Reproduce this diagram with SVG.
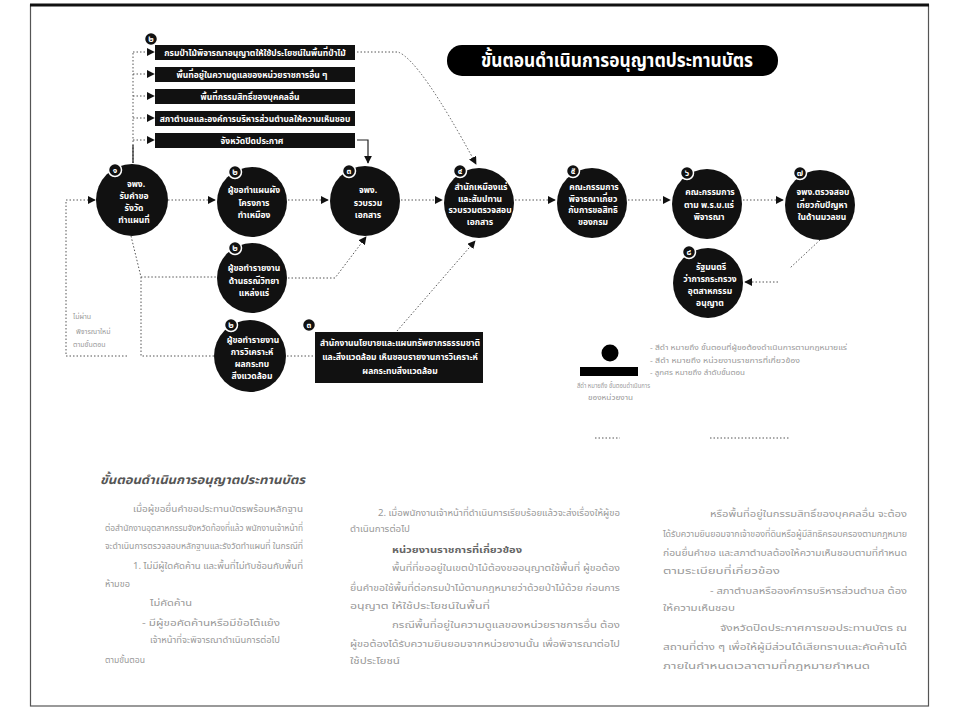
<svg xmlns="http://www.w3.org/2000/svg" width="957" height="724" viewBox="0 0 957 724">
<style>
.th{font-family:"Noto Sans Thai","Noto Sans","DejaVu Sans",sans-serif}
.node circle.c{fill:#111}
.nt{fill:#fff;font-size:8.5px;font-weight:bold;text-anchor:middle}
.bt{fill:#fff;font-size:8.5px;font-weight:bold;text-anchor:middle}
.box rect{fill:#111}
.badge circle{fill:#111;stroke:#fff;stroke-width:1.5}
.badge text{fill:#fff;font-size:8.5px;font-weight:bold;text-anchor:middle}
.dot{fill:none;stroke:#555;stroke-width:1;stroke-dasharray:1.5 2}
.sol{fill:none;stroke:#222;stroke-width:1.2}
.body{fill:#999;font-size:9.5px}
.leg{fill:#999;font-size:7px}
</style>
<defs>
<marker id="ah" viewBox="0 0 10 10" refX="9" refY="5" markerWidth="8" markerHeight="8" markerUnits="userSpaceOnUse" orient="auto">
<path d="M0,0 L10,5 L0,10 z" fill="#111"/>
</marker>
</defs>
<rect x="0" y="0" width="957" height="724" fill="#fff"/>
<rect x="30.5" y="5" width="898" height="701" fill="none" stroke="#555" stroke-width="1.2"/>
<line x1="30" y1="5" x2="929" y2="5" stroke="#111" stroke-width="3"/>

<g id="title">
<rect x="447" y="45" width="331" height="31" rx="15" fill="#000"/>
<text class="th" x="617" y="67" fill="#fff" font-size="20" font-weight="bold" text-anchor="middle" textLength="272" lengthAdjust="spacingAndGlyphs">ขั้นตอนดำเนินการอนุญาตประทานบัตร</text>
</g>

<g id="connectors">
<path class="dot" d="M66,200 H95" marker-end="url(#ah)"/>
<path class="dot" d="M127,356 H66 V200"/>
<path class="dot" d="M168,200 H215" marker-end="url(#ah)"/>
<path class="dot" d="M288,200 H328" marker-end="url(#ah)"/>
<path class="dot" d="M131,236 L141,277 H217"/>
<path class="dot" d="M141,277 V356 H214"/>
<path class="dot" d="M288,278 H335 L366,237" marker-end="url(#ah)"/>
<path class="dot" d="M287,356 H315"/>
<path class="dot" d="M397,331 L475,241" marker-end="url(#ah)"/>
<path class="dot" d="M401,200 H442" marker-end="url(#ah)"/>
<path class="dot" d="M515,200 H555" marker-end="url(#ah)"/>
<path class="dot" d="M628,200 H670" marker-end="url(#ah)"/>
<path class="dot" d="M743,200 H783" marker-end="url(#ah)"/>
<path class="dot" d="M820,240 L790,268 M778,282 H745"/>
<path d="M752,282 H745" stroke="none" marker-end="url(#ah)"/>
<path class="dot" d="M133,163 V52"/>
<path class="dot" d="M133,52 H154" marker-end="url(#ah)"/>
<path class="dot" d="M133,74 H154" marker-end="url(#ah)"/>
<path class="dot" d="M133,96 H154" marker-end="url(#ah)"/>
<path class="dot" d="M133,118 H154" marker-end="url(#ah)"/>
<path class="dot" d="M133,140 H154" marker-end="url(#ah)"/>
<path class="sol" d="M133,145 V163"/>
<path class="sol" d="M357,140 H368 V163" marker-end="url(#ah)"/>
<path class="dot" d="M357,52 H398 Q420,60 476,164" marker-end="url(#ah)"/>
</g>

<g id="box-2a" class="box">
<rect x="155" y="45" width="200" height="15"/>
<text class="th bt" x="255" y="55.5">กรมป่าไม้พิจารณาอนุญาตให้ใช้ประโยชน์ในพื้นที่ป่าไม้</text>
</g>
<g id="box-2b" class="box">
<rect x="155" y="67" width="200" height="15"/>
<text class="th bt" x="252" y="77.5">พื้นที่อยู่ในความดูแลของหน่วยราชการอื่น ๆ</text>
</g>
<g id="box-2c" class="box">
<rect x="155" y="89" width="200" height="15"/>
<text class="th bt" x="250" y="99.5">พื้นที่กรรมสิทธิ์ของบุคคลอื่น</text>
</g>
<g id="box-2d" class="box">
<rect x="155" y="111" width="200" height="15"/>
<text class="th bt" x="255" y="121.5">สภาตำบลและองค์การบริหารส่วนตำบลให้ความเห็นชอบ</text>
</g>
<g id="box-2e" class="box">
<rect x="155" y="133" width="200" height="15"/>
<text class="th bt" x="252" y="143.5">จังหวัดปิดประกาศ</text>
</g>
<g class="badge"><circle cx="151" cy="39" r="6.5"/><text class="th" x="151" y="42">๒</text></g>

<g id="node1" class="node">
<circle class="c" cx="132" cy="200" r="36"/>
<text class="th nt" x="136" y="187">จพง.</text>
<text class="th nt" x="134" y="199">รับคำขอ</text>
<text class="th nt" x="134" y="211">รังวัด</text>
<text class="th nt" x="134" y="223">ทำแผนที่</text>
<g class="badge"><circle cx="115" cy="170" r="6.5"/><text class="th" x="115" y="173">๑</text></g>
</g>
<g id="node2a" class="node">
<circle class="c" cx="252" cy="202" r="35"/>
<text class="th nt" x="254" y="193">ผู้ขอทำแผนผัง</text>
<text class="th nt" x="254" y="205.5">โครงการ</text>
<text class="th nt" x="254" y="218">ทำเหมือง</text>
<g class="badge"><circle cx="235" cy="172" r="6.5"/><text class="th" x="235" y="175">๒</text></g>
</g>
<g id="node2b" class="node">
<circle class="c" cx="252" cy="278" r="35"/>
<text class="th nt" x="254" y="271">ผู้ขอทำรายงาน</text>
<text class="th nt" x="254" y="283.5">ด้านธรณีวิทยา</text>
<text class="th nt" x="254" y="296">แหล่งแร่</text>
<g class="badge"><circle cx="235" cy="248" r="6.5"/><text class="th" x="235" y="251">๒</text></g>
</g>
<g id="node2c" class="node">
<circle class="c" cx="250" cy="356" r="36"/>
<text class="th nt" x="253" y="343">ผู้ขอทำรายงาน</text>
<text class="th nt" x="252" y="355">การวิเคราะห์</text>
<text class="th nt" x="252" y="367">ผลกระทบ</text>
<text class="th nt" x="252" y="379">สิ่งแวดล้อม</text>
<g class="badge"><circle cx="231" cy="325" r="6.5"/><text class="th" x="231" y="328">๒</text></g>
</g>
<g id="node3" class="node">
<circle class="c" cx="365" cy="201" r="35"/>
<text class="th nt" x="368" y="193">จพง.</text>
<text class="th nt" x="368" y="205.5">รวบรวม</text>
<text class="th nt" x="368" y="218">เอกสาร</text>
<g class="badge"><circle cx="349" cy="171" r="6.5"/><text class="th" x="349" y="174">๓</text></g>
</g>
<g id="box3" class="box">
<rect x="315" y="332" width="168" height="51"/>
<text class="th bt" x="400" y="346">สำนักงานนโยบายและแผนทรัพยากรธรรมชาติ</text>
<text class="th bt" x="400" y="360">และสิ่งแวดล้อม เห็นชอบรายงานการวิเคราะห์</text>
<text class="th bt" x="400" y="374">ผลกระทบสิ่งแวดล้อม</text>
<g class="badge"><circle cx="309" cy="325" r="6.5"/><text class="th" x="309" y="328">๓</text></g>
</g>
<g id="node4" class="node">
<circle class="c" cx="479" cy="203" r="35"/>
<text class="th nt" x="481" y="190">สำนักเหมืองแร่</text>
<text class="th nt" x="480" y="201.5">และสัมปทาน</text>
<text class="th nt" x="480" y="213">รวบรวมตรวจสอบ</text>
<text class="th nt" x="480" y="224.5">เอกสาร</text>
<g class="badge"><circle cx="460" cy="171" r="6.5"/><text class="th" x="460" y="174">๔</text></g>
</g>
<g id="node5" class="node">
<circle class="c" cx="592" cy="203" r="35"/>
<text class="th nt" x="594" y="190">คณะกรรมการ</text>
<text class="th nt" x="593" y="201.5">พิจารณาเกี่ยว</text>
<text class="th nt" x="593" y="213">กับการขอสิทธิ</text>
<text class="th nt" x="593" y="224.5">ของกรม</text>
<g class="badge"><circle cx="573" cy="171" r="6.5"/><text class="th" x="573" y="174">๕</text></g>
</g>
<g id="node6" class="node">
<circle class="c" cx="707" cy="204" r="35"/>
<text class="th nt" x="710" y="195">คณะกรรมการ</text>
<text class="th nt" x="709" y="207.5">ตาม พ.ร.บ.แร่</text>
<text class="th nt" x="709" y="220">พิจารณา</text>
<g class="badge"><circle cx="687" cy="173" r="6.5"/><text class="th" x="687" y="176">๖</text></g>
</g>
<g id="node7" class="node">
<circle class="c" cx="820" cy="205" r="35"/>
<text class="th nt" x="823" y="195">จพง.ตรวจสอบ</text>
<text class="th nt" x="822" y="207.5">เกี่ยวกับปัญหา</text>
<text class="th nt" x="822" y="220">ในด้านมวลชน</text>
<g class="badge"><circle cx="800" cy="173" r="6.5"/><text class="th" x="800" y="176">๗</text></g>
</g>
<g id="node8" class="node">
<circle class="c" cx="708" cy="283" r="35"/>
<text class="th nt" x="711" y="270">รัฐมนตรี</text>
<text class="th nt" x="710" y="282">ว่าการกระทรวง</text>
<text class="th nt" x="710" y="294">อุตสาหกรรม</text>
<text class="th nt" x="710" y="306">อนุญาต</text>
<g class="badge"><circle cx="689" cy="252" r="6.5"/><text class="th" x="689" y="255">๘</text></g>
</g>

<g id="note-left">
<text class="th leg" x="73" y="319">ไม่ผ่าน</text>
<text class="th leg" x="76" y="334">พิจารณาใหม่</text>
<text class="th leg" x="73" y="347">ตามขั้นตอน</text>
</g>

<g id="legend">
<circle cx="610" cy="353" r="8.5" fill="#000"/>
<rect x="580" y="367" width="58" height="9" fill="#000"/>
<text class="th leg" x="577" y="388" textLength="73" lengthAdjust="spacingAndGlyphs">สีดำ หมายถึง ขั้นตอนดำเนินการ</text>
<text class="th leg" x="588" y="400" textLength="45" lengthAdjust="spacingAndGlyphs">ของหน่วยงาน</text>
<text class="th leg" x="650" y="350" textLength="197" lengthAdjust="spacingAndGlyphs">- สีดำ หมายถึง ขั้นตอนที่ผู้ขอต้องดำเนินการตามกฎหมายแร่</text>
<text class="th leg" x="650" y="363" textLength="150" lengthAdjust="spacingAndGlyphs">- สีดำ หมายถึง หน่วยงานราชการที่เกี่ยวข้อง</text>
<text class="th leg" x="650" y="375" textLength="95" lengthAdjust="spacingAndGlyphs">- ลูกศร หมายถึง ลำดับขั้นตอน</text>
<path class="dot" d="M595,438 H620 M710,438 H790" stroke="#bbb"/>
</g>

<g id="text-col1" class="th body">
<text x="100" y="484" fill="#555" font-size="12" font-weight="bold" font-style="italic" textLength="205" lengthAdjust="spacingAndGlyphs">ขั้นตอนดำเนินการอนุญาตประทานบัตร</text>
<text x="133" y="512" textLength="170" lengthAdjust="spacingAndGlyphs">เมื่อผู้ขอยื่นคำขอประทานบัตรพร้อมหลักฐาน</text>
<text x="105" y="531" textLength="198" lengthAdjust="spacingAndGlyphs">ต่อสำนักงานอุตสาหกรรมจังหวัดท้องที่แล้ว พนักงานเจ้าหน้าที่</text>
<text x="105" y="549" textLength="198" lengthAdjust="spacingAndGlyphs">จะดำเนินการตรวจสอบหลักฐานและรังวัดทำแผนที่ ในกรณีที่</text>
<text x="133" y="569" textLength="170" lengthAdjust="spacingAndGlyphs">1. ไม่มีผู้ใดคัดค้าน และพื้นที่ไม่ทับซ้อนกับพื้นที่</text>
<text x="105" y="587" textLength="25" lengthAdjust="spacingAndGlyphs">ห้ามขอ</text>
<text x="150" y="606" textLength="42" lengthAdjust="spacingAndGlyphs">ไม่คัดค้าน</text>
<text x="142" y="626" textLength="138" lengthAdjust="spacingAndGlyphs">- มีผู้ขอคัดค้านหรือมีข้อโต้แย้ง</text>
<text x="150" y="643" textLength="130" lengthAdjust="spacingAndGlyphs">เจ้าหน้าที่จะพิจารณาดำเนินการต่อไป</text>
<text x="105" y="663" textLength="40" lengthAdjust="spacingAndGlyphs">ตามขั้นตอน</text>
</g>
<g id="text-col2" class="th body">
<text x="378" y="516" textLength="242" lengthAdjust="spacingAndGlyphs">2. เมื่อพนักงานเจ้าหน้าที่ดำเนินการเรียบร้อยแล้วจะส่งเรื่องให้ผู้ขอ</text>
<text x="350" y="532" textLength="60" lengthAdjust="spacingAndGlyphs">ดำเนินการต่อไป</text>
<text x="392" y="553" fill="#666" font-weight="bold" textLength="130" lengthAdjust="spacingAndGlyphs">หน่วยงานราชการที่เกี่ยวข้อง</text>
<text x="392" y="571" textLength="228" lengthAdjust="spacingAndGlyphs">พื้นที่ที่ขออยู่ในเขตป่าไม้ต้องขออนุญาตใช้พื้นที่ ผู้ขอต้อง</text>
<text x="350" y="591" textLength="270" lengthAdjust="spacingAndGlyphs">ยื่นคำขอใช้พื้นที่ต่อกรมป่าไม้ตามกฎหมายว่าด้วยป่าไม้ด้วย ก่อนการ</text>
<text x="350" y="609" textLength="140" lengthAdjust="spacingAndGlyphs">อนุญาต ให้ใช้ประโยชน์ในพื้นที่</text>
<text x="392" y="628" textLength="228" lengthAdjust="spacingAndGlyphs">กรณีพื้นที่อยู่ในความดูแลของหน่วยราชการอื่น ต้อง</text>
<text x="350" y="647" textLength="270" lengthAdjust="spacingAndGlyphs">ผู้ขอต้องได้รับความยินยอมจากหน่วยงานนั้น เพื่อพิจารณาต่อไป</text>
<text x="350" y="664" textLength="50" lengthAdjust="spacingAndGlyphs">ใช้ประโยชน์</text>
</g>
<g id="text-col3" class="th body">
<text x="710" y="517" textLength="197" lengthAdjust="spacingAndGlyphs">หรือพื้นที่อยู่ในกรรมสิทธิ์ของบุคคลอื่น จะต้อง</text>
<text x="663" y="537" textLength="244" lengthAdjust="spacingAndGlyphs">ได้รับความยินยอมจากเจ้าของที่ดินหรือผู้มีสิทธิครอบครองตามกฎหมาย</text>
<text x="663" y="556" textLength="244" lengthAdjust="spacingAndGlyphs">ก่อนยื่นคำขอ และสภาตำบลต้องให้ความเห็นชอบตามที่กำหนด</text>
<text x="663" y="574" textLength="117" lengthAdjust="spacingAndGlyphs">ตามระเบียบที่เกี่ยวข้อง</text>
<text x="710" y="594" textLength="197" lengthAdjust="spacingAndGlyphs">- สภาตำบลหรือองค์การบริหารส่วนตำบล ต้อง</text>
<text x="663" y="611" textLength="72" lengthAdjust="spacingAndGlyphs">ให้ความเห็นชอบ</text>
<text x="720" y="631" textLength="187" lengthAdjust="spacingAndGlyphs">จังหวัดปิดประกาศการขอประทานบัตร ณ</text>
<text x="663" y="650" textLength="244" lengthAdjust="spacingAndGlyphs">สถานที่ต่าง ๆ เพื่อให้ผู้มีส่วนได้เสียทราบและคัดค้านได้</text>
<text x="663" y="669" textLength="207" lengthAdjust="spacingAndGlyphs">ภายในกำหนดเวลาตามที่กฎหมายกำหนด</text>
</g>
</svg>
